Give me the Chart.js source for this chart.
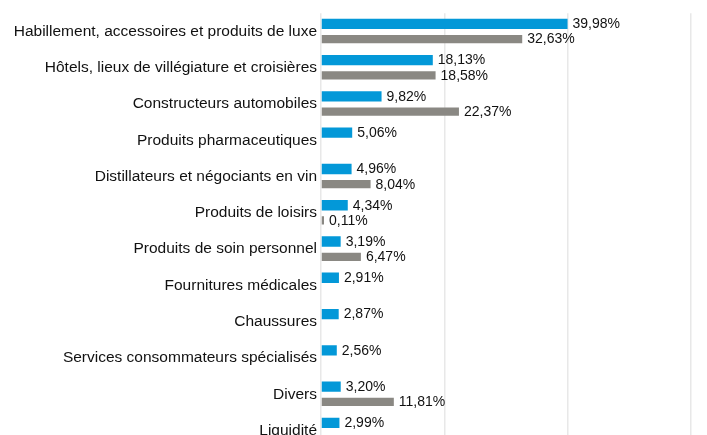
<!DOCTYPE html>
<html>
<head>
<meta charset="utf-8">
<script src="https://cdn.jsdelivr.net/npm/chart.js@4"></script>
<style>
  html, body { margin: 0; padding: 0; background: #fff; overflow: hidden; }
  #wrap { width: 707px; height: 435px; overflow: hidden; }
</style>
</head>
<body>
<div id="wrap"><canvas id="secteurs" width="707" height="462"></canvas></div>
<script>
// secteurs
var categories = [
  'Habillement, accessoires et produits de luxe',
  'Hôtels, lieux de villégiature et croisières',
  'Constructeurs automobiles',
  'Produits pharmaceutiques',
  'Distillateurs et négociants en vin',
  'Produits de loisirs',
  'Produits de soin personnel',
  'Fournitures médicales',
  'Chaussures',
  'Services consommateurs spécialisés',
  'Divers',
  'Liquidité'
]
var fonds = [39.98, 18.13, 9.82, 5.06, 4.96, 4.34, 3.19, 2.91, 2.87, 2.56, 3.20, 2.99]
var indice = [32.63, 18.58, 22.37, null, 8.04, 0.11, 6.47, null, null, null, 11.81, null]
var xTicks = [0, 20, 40, 60]

// labels "39,98%" a droite des barres
const barLabels = {
  id: 'barLabels',
  afterDatasetsDraw(chart) {
    const ctx = chart.ctx
    ctx.save()
    ctx.font = '14px "Liberation Sans", Arial, sans-serif'
    ctx.fillStyle = '#111'
    ctx.textAlign = 'left'
    ctx.textBaseline = 'middle'
    chart.data.datasets.forEach((ds, i) => {
      chart.getDatasetMeta(i).data.forEach((bar, j) => {
        let v = ds.data[j]
        if (v === null || v === undefined) return
        ctx.fillText(v.toFixed(2).replace('.', ',') + '%', bar.x + 5, bar.y + 0.5)
      })
    })
    ctx.restore()
  }
}

let ctx = document.getElementById('secteurs').getContext('2d')

let barChart = new Chart(ctx, {
  type: 'bar',
  data: {
    labels: categories,
    datasets: [{
      label: 'Fonds',
      data: fonds,
      backgroundColor: '#0398d8',
      categoryPercentage: 0.84,
      barPercentage: 0.68
    }, {
      label: 'Indice',
      data: indice,
      backgroundColor: '#8a8883',
      categoryPercentage: 0.84,
      barPercentage: 0.54,
      minBarLength: 3
    }]
  },
  options: {
    indexAxis: 'y',
    responsive: false,
    animation: false,
    layout: { padding: { top: 5.5, right: 16, left: 0, bottom: 0 } },
    plugins: {
      legend: { display: false },
      tooltip: { enabled: false }
    },
    scales: {
      x: {
        min: 0,
        max: 60,
        afterBuildTicks: (scale) => { scale.ticks = xTicks.map(v => ({ value: v })) },
        ticks: { display: false },
        grid: { color: '#e8e8e8', lineWidth: 1.5, drawTicks: false },
        border: { display: false }
      },
      y: {
        afterFit: (scale) => { scale.width = 321 },
        ticks: {
          color: '#111',
          padding: 4,
          font: { family: '"Liberation Sans", Arial, sans-serif', size: 15.5 }
        },
        grid: { display: false, drawTicks: false },
        border: { display: false }
      }
    }
  },
  plugins: [barLabels]
})
</script>
</body>
</html>
